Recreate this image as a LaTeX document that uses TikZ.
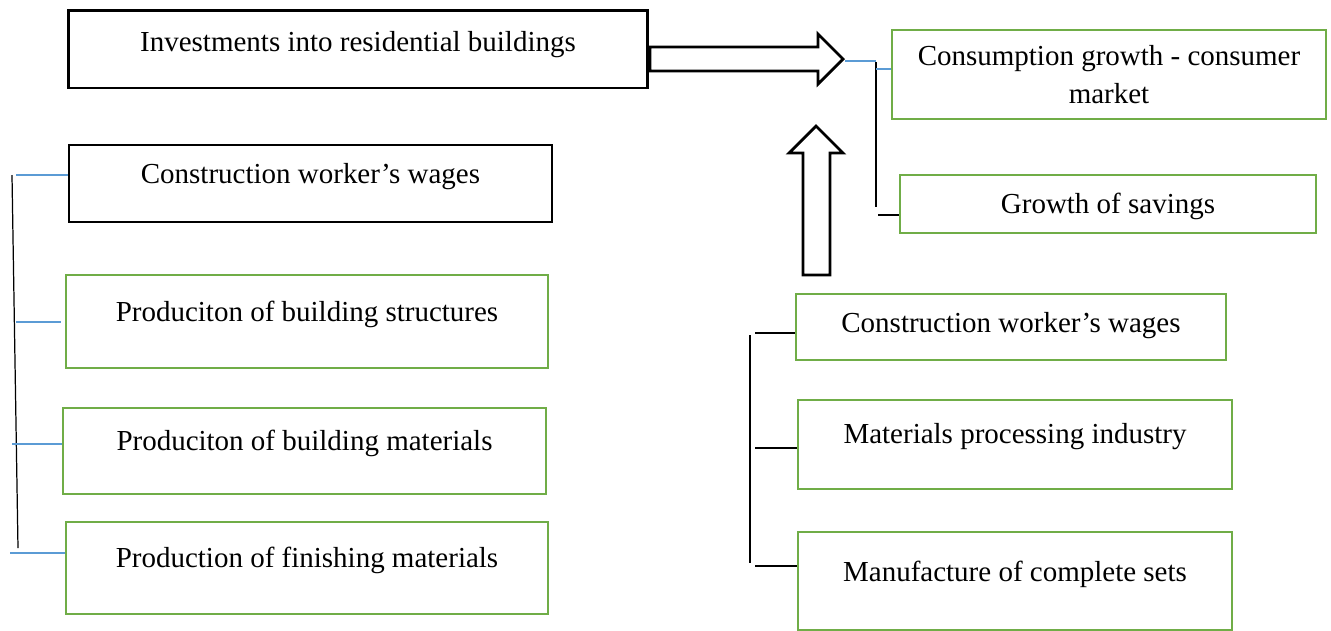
\documentclass[tikz,border=0pt]{standalone}
\usepackage{fontspec}
\setmainfont{Liberation Serif}
\definecolor{boxgreen}{RGB}{112,173,71}
\definecolor{linkblue}{RGB}{91,155,213}

\begin{document}
\begin{tikzpicture}[x = 0.02cm, y = -0.02cm,
    box/.style = {draw = black, line width = 1.3pt, fill = white, inner sep = 0pt,
        font = \fontsize{16.5}{21.5}\selectfont, text height = 11.5pt, text depth = #1},
    box/.default = 4pt,
    gbox/.style = {box = #1, draw = boxgreen, line width = 1.3pt},
    gbox/.default = 4pt,
    bluelink/.style = {draw = linkblue, line width = .6pt},
    blacklink/.style = {draw = black, line width = .7pt},
    bigarrow/.style = {draw = black, line width = 1.6pt, fill = white, line join = miter}]

    \useasboundingbox (0, 0) rectangle (1331, 630);

    %%%%%%%%%%%%%%%%%%%% left column
    \node [box = 8.7pt, line width = 1.7pt, minimum width = 11.6cm, minimum height = 1.56cm] (invest) at (358, 49) {Investments into residential buildings};
    \node [box = 11.5pt, minimum width = 9.66cm, minimum height = 1.54cm] (wagesL) at (310.5, 183.5) {Construction worker’s wages};
    \node [gbox = 11.5pt, minimum width = 9.64cm, minimum height = 1.86cm] (structures) at (307, 321.5) {Produciton of building structures};
    \node [gbox = 12.1pt, minimum width = 9.66cm, minimum height = 1.72cm] (materials) at (304.5, 451) {Produciton of building materials};
    \node [gbox = 12.1pt, minimum width = 9.64cm, minimum height = 1.84cm] (finishing) at (307, 568) {Production of finishing materials};

    \coordinate (ltop) at (12, 175);
    \coordinate (lbot) at (18, 548);
    \draw [blacklink] (ltop) -- (lbot);
    \coordinate (l1) at (16, 175);
    \coordinate (l2) at (16, 322);
    \coordinate (l3) at (12, 444);
    \coordinate (l4) at (10, 553);
    \draw [bluelink] (l1) -- (l1 -| wagesL.west);
    \draw [bluelink, shorten >= .08cm] (l2) -- (l2 -| structures.west);
    \draw [bluelink] (l3) -- (l3 -| materials.west);
    \draw [bluelink] (l4) -- (l4 -| finishing.west);

    %%%%%%%%%%%%%%%%%%%% arrows
    \draw [bigarrow] (650, 47) -- (818, 47) -- (818, 34) -- (843, 59) -- (818, 84) -- (818, 71) -- (650, 71) -- cycle;
    \coordinate (rtip) at (845, 61);
    \draw [bigarrow] (803, 275) -- (803, 153) -- (789, 153) -- (816, 126) -- (843, 153) -- (830, 153) -- (830, 275) -- cycle;

    %%%%%%%%%%%%%%%%%%%% right column
    \node [gbox, text height = {}, text depth = {}, align = center, minimum width = 8.68cm, minimum height = 1.78cm] (consume) at (1109, 74.5) {Consumption growth - consumer\\market};
    \node [gbox = 1pt, minimum width = 8.32cm, minimum height = 1.16cm] (savings) at (1108, 204) {Growth of savings};
    \node [gbox = 5.3pt, minimum width = 8.6cm, minimum height = 1.32cm] (wagesR) at (1011, 327) {Construction worker’s wages};
    \node [gbox = 12.7pt, minimum width = 8.68cm, minimum height = 1.78cm] (processing) at (1015, 444.5) {Materials processing industry};
    \node [gbox = 10.9pt, minimum width = 8.68cm, minimum height = 1.96cm] (sets) at (1015, 581) {Manufacture of complete sets};

    \coordinate (rtop) at (876, 62);
    \coordinate (rbot) at (876, 207);
    \draw [bluelink] (rtip) -- (rtop |- rtip);
    \draw [blacklink] (rtop) -- (rbot);
    \coordinate (r1) at (876, 69);
    \coordinate (r2) at (878, 215);
    \draw [bluelink] (r1) -- (r1 -| consume.west);
    \draw [blacklink] (r2) -- (r2 -| savings.west);

    \coordinate (btop) at (750, 335);
    \coordinate (bbot) at (750, 563);
    \draw [blacklink] (btop) -- (bbot);
    \coordinate (b1) at (755, 333);
    \coordinate (b2) at (755, 448);
    \coordinate (b3) at (755, 566);
    \draw [blacklink] (b1) -- (b1 -| wagesR.west);
    \draw [blacklink] (b2) -- (b2 -| processing.west);
    \draw [blacklink] (b3) -- (b3 -| sets.west);
\end{tikzpicture}
\end{document}
